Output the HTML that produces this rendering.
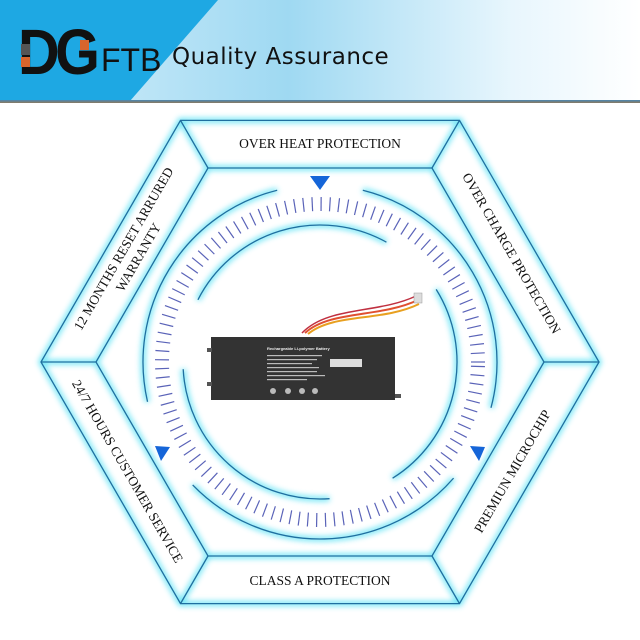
<!DOCTYPE html>
<html><head><meta charset="utf-8"><style>
body{margin:0;width:640px;height:640px;overflow:hidden;background:#fff;font-family:"Liberation Serif",serif}
#hdr{position:absolute;left:0;top:0;width:640px;height:101px;background:linear-gradient(90deg,#d8f0fb 0%,#9fd9f2 45%,#e8f6fd 80%,#fff 100%)}
#hdr .dk{position:absolute;left:0;top:0;width:640px;height:101px;background:#1ea8e3;clip-path:polygon(0 0,218px 0,130px 101px,0 101px)}
#line{position:absolute;left:0;top:100px;width:640px;height:3px;background:linear-gradient(#4a86b0,#8a7a60)}
</style></head><body>
<div id="hdr"><div class="dk"></div>
<div style="position:absolute;left:18px;top:20px;font:bold 64px/64px 'Liberation Sans',sans-serif;color:#111;letter-spacing:-5px;transform:scaleX(0.9);transform-origin:0 0">DG</div>
<div style="position:absolute;left:21px;top:44px;width:9px;height:11px;background:#555"></div>
<div style="position:absolute;left:21px;top:57px;width:9px;height:10px;background:#d8652c"></div>
<div style="position:absolute;left:80px;top:40px;width:9px;height:10px;background:#d8652c"></div>
<div style="position:absolute;left:101px;top:42px;font:32px/36px 'Liberation Sans',sans-serif;color:#111">FTB</div>
<div style="position:absolute;left:172px;top:42px;font:23px/30px 'DejaVu Sans',sans-serif;color:#111;letter-spacing:0.5px">Quality Assurance</div>
</div>
<div id="line"></div>
<svg width="640" height="640" style="position:absolute;left:0;top:0" id="s">
<defs><filter id="g" x="-20%" y="-20%" width="140%" height="140%"><feGaussianBlur stdDeviation="3"/></filter></defs>
<g id="glow" filter="url(#g)" stroke="#5fe3f5" stroke-width="5" fill="none" opacity="0.9"></g>
<g id="lines" stroke="#1f6fa0" stroke-width="1.3" fill="none"></g>
<g id="ticks" stroke="#5a63b8" stroke-width="1.2"></g>
<g fill="#1565d8">
<polygon points="310,176 330,176 320,190"/>
<polygon points="155,446 170,447 161,461"/>
<polygon points="470,446 485,447 479,461" />
</g>
<g font-size="13.5" fill="#111" text-anchor="middle" font-family="Liberation Serif,serif">
<text x="320" y="148">OVER HEAT PROTECTION</text>
<text x="320" y="585">CLASS A PROTECTION</text>
<text transform="translate(512,253) rotate(60)" y="5">OVER CHARGE PROTECTION</text>
<text transform="translate(512,471) rotate(-60)" y="5">PREMIUN MICROCHIP</text>
<text transform="translate(128,471) rotate(60)" y="5">24/7 HOURS CUSTOMER SERVICE</text>
<text transform="translate(131,253) rotate(-60)"><tspan x="0" y="-4">12 MONTHS RESET ARRURED</tspan><tspan x="0" y="13">WARRANTY</tspan></text>
</g>
<g>
<path d="M305,333 C330,310 380,318 418,300" stroke="#e05030" stroke-width="2" fill="none"/>
<path d="M308,334 C333,313 382,322 419,304" stroke="#e8a020" stroke-width="2" fill="none"/>
<path d="M302,333 C328,306 378,314 416,296" stroke="#c03040" stroke-width="1.5" fill="none"/>
<rect x="414" y="293" width="8" height="10" fill="#ddd" stroke="#999" stroke-width=".5"/>
<rect x="211" y="337" width="184" height="63" fill="#333"/>
<rect x="207" y="348" width="5" height="4" fill="#555"/><rect x="207" y="382" width="5" height="4" fill="#555"/>
<rect x="395" y="394" width="6" height="4" fill="#555"/>
<rect x="330" y="359" width="32" height="8" fill="#ddd"/>
<text x="267" y="350" font-size="4" fill="#eee" font-family="Liberation Sans" font-weight="bold">Rechargeable Li-polymer Battery</text>
<g fill="#bbb"><rect x="267" y="355" width="55" height="1.2"/><rect x="267" y="359" width="50" height="1.2"/><rect x="267" y="363" width="45" height="1.2"/><rect x="267" y="367" width="52" height="1.2"/><rect x="267" y="371" width="50" height="1.2"/><rect x="267" y="375" width="58" height="1.2"/><rect x="267" y="379" width="40" height="1.2"/>
<circle cx="273" cy="391" r="3"/><circle cx="288" cy="391" r="3"/><circle cx="302" cy="391" r="3"/><circle cx="315" cy="391" r="3"/></g>
</g>
</svg>
<script>
var cx=320,cy=362,ns="http://www.w3.org/2000/svg";
function hex(R){var p=[];for(var i=0;i<6;i++){var a=Math.PI/3*i;p.push([cx+R*Math.cos(a),cy+R*Math.sin(a)]);}return p;}
var O=hex(279),I=hex(224);
function el(g,t,a){var e=document.createElementNS(ns,t);for(var k in a)e.setAttribute(k,a[k]);document.getElementById(g).appendChild(e);}
var op=O.map(p=>p.join(',')).join(' '),ip=I.map(p=>p.join(',')).join(' ');
['glow','lines'].forEach(function(g){
el(g,'polygon',{points:op});el(g,'polygon',{points:ip});
for(var i=0;i<6;i++)el(g,'line',{x1:O[i][0],y1:O[i][1],x2:I[i][0],y2:I[i][1]});
});
function arc(g,r,a1,a2){var d=Math.PI/180;var x1=cx+r*Math.cos(a1*d),y1=cy-r*Math.sin(a1*d),x2=cx+r*Math.cos(a2*d),y2=cy-r*Math.sin(a2*d);
el(g,'path',{d:'M'+x1+','+y1+' A'+r+','+r+' 0 '+((a2-a1)>180?1:0)+' 0 '+x2+','+y2});}
var outer=[[104,193],[224,319],[345,436]],inner=[[61,153],[183,274],[302,392]];
['glow','lines'].forEach(function(g){outer.forEach(s=>arc(g,177,s[0],s[1]));inner.forEach(s=>arc(g,137,s[0],s[1]));});
for(var a=0;a<360;a+=3.2){var d=a*Math.PI/180;el('ticks','line',{x1:cx+151*Math.cos(d),y1:cy-151*Math.sin(d),x2:cx+165*Math.cos(d),y2:cy-165*Math.sin(d)});}
</script>
</body></html>
